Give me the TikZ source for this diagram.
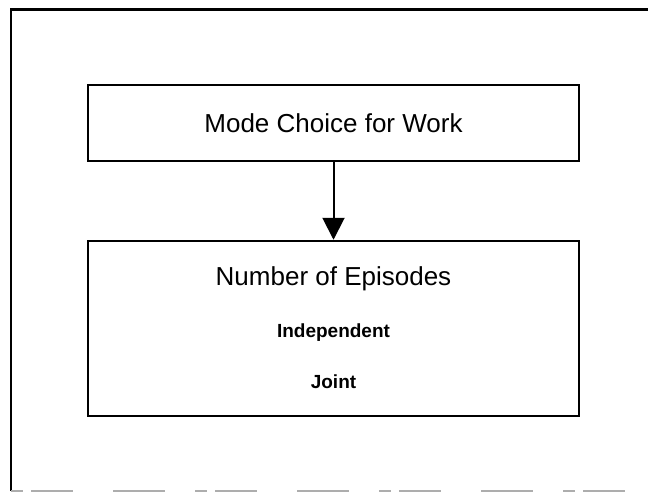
\documentclass[tikz,border=0pt]{standalone}
\usepackage{fontspec}
\setmainfont{Liberation Sans}
\usetikzlibrary{arrows.meta}
\begin{document}
\begin{tikzpicture}[x=1pt,y=-1pt,
  stagebox/.style={draw=black,line width=2.5pt,minimum width=491pt,inner sep=0pt},
  headtext/.style={font=\fontsize{26}{30}\selectfont,anchor=base,inner sep=0pt},
  subtext/.style={font=\bfseries\fontsize{19}{22}\selectfont,anchor=base,inner sep=0pt},
  frameline/.style={line width=2.5pt,black},
  flow/.style={line width=2pt,-{Triangle[width=22pt,length=22pt]}}]
  \useasboundingbox (0,0) rectangle (648,493);

  % outer frame (right side runs off the page, bottom edge faded)
  \coordinate (frameBL) at (11,491);
  \coordinate (frameTL) at (11,9.5);
  \coordinate (frameTR) at (656,9.5);
  \coordinate (frameBR) at (656,491);
  \draw[frameline] (frameBL) -- (frameTL) -- (frameTR);
  \draw[line width=1.3pt,black!32,dash pattern=on 12pt off 8pt on 42pt off 40pt on 52pt off 30pt]
    (frameBL) -- (frameBR);

  % upper stage
  \node[stagebox,minimum height=76pt] (mode) at (333.5,123) {};
  \node[headtext] (modetext) at (333.5,132) {Mode Choice for Work};

  % lower stage
  \node[stagebox,minimum height=175pt] (episodes) at (333.5,328.5) {};
  \node[headtext] (episodestext) at (333.5,285) {Number of Episodes};
  \node[subtext] (indep) at (333.5,337) {Independent};
  \node[subtext] (joint) at (333.5,388) {Joint};

  \draw[flow] (mode.south) -- (episodes.north);
\end{tikzpicture}
\end{document}
